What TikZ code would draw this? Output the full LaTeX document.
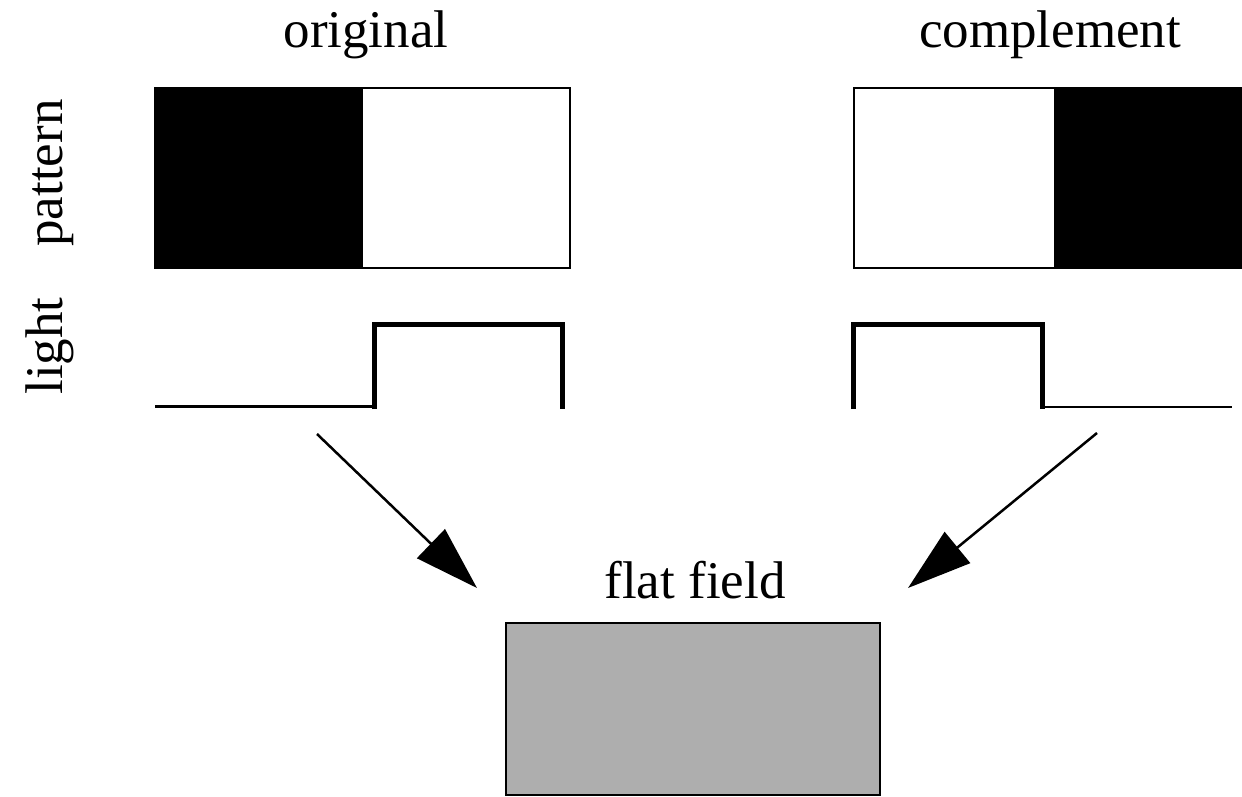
\documentclass[tikz,border=0pt]{standalone}
\usepackage{fontspec}
\setmainfont{Liberation Serif}
\usetikzlibrary{arrows.meta}
\begin{document}
\begin{tikzpicture}[x=1pt,y=-1pt,
  lbl/.style={font=\fontsize{53}{60}\selectfont, inner sep=0pt, anchor=base},
  sidelbl/.style={lbl, rotate=90},
  frame/.style={draw=black, line width=2pt},
  thinlevel/.style={line width=2.5pt},
  steplevel/.style={line width=5pt, line join=miter},
  flow/.style={line width=2.5pt, -{Triangle[length=64pt,width=40pt]}}]
\useasboundingbox (0,0) rectangle (1242,797);

% column headings
\node[lbl] (orig) at (366,48) {original};
\node[lbl] (comp) at (1050,48) {complement};
\node[sidelbl] (pat) at (62,173) {pattern};
\node[sidelbl] (lig) at (62,346) {light};

% original pattern: dark half on the left
\fill[black] (155,88) rectangle (363,268);
\draw[frame] (155,88) rectangle (570,268);

% complement pattern: dark half on the right
\fill[black] (1054,88) rectangle (1244,268);
\draw[frame] (1244,88) -- (854,88) -- (854,268) -- (1244,268);

% light profile of the original
\draw[thinlevel] (155,406.5) -- (374,406.5);
\draw[steplevel] (374,409) -- (374,324) -- (562,324) -- (562,409);

% light profile of the complement
\draw[steplevel] (853,409) -- (853,324) -- (1042,324) -- (1042,409);
\draw[thinlevel] (1042,407) -- (1232,407);

% flat field
\node[lbl] (ff) at (695,598) {flat field};
\draw[frame, fill={rgb,255:red,174;green,174;blue,174}] (506,623) rectangle (880,795);

% combining arrows
\coordinate (a1) at (317,434);
\coordinate (b1) at (477,588);
\coordinate (a2) at (1097,433);
\coordinate (b2) at (908,588);
\draw[flow] (a1) -- (b1);
\draw[flow] (a2) -- (b2);
\end{tikzpicture}
\end{document}
